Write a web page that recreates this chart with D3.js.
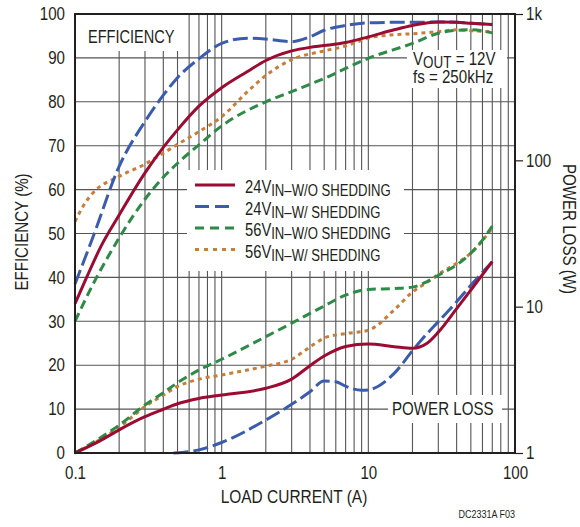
<!DOCTYPE html>
<html>
<head>
<meta charset="utf-8">
<script src="https://cdn.jsdelivr.net/npm/d3@7"></script>
<style>
  body { margin: 0; background: #fff; }
  svg text { font-family: "Liberation Sans", Arial, sans-serif; fill: #231f20; }
</style>
</head>
<body>
<svg id="chart"></svg>
<script>
const width = 580;
const height = 527;
const margin = {top: 14, right: 65, bottom: 74, left: 75};

// load current (A) vs efficiency (%)
const eff24NoShed = [[0.1,34],[0.12,40],[0.15,47],[0.2,54.2],[0.3,63.8],[0.4,69.6],[0.5,73.6],[0.7,79],[1,83.2],[1.5,86.9],[2,89.4],[3,91.6],[4,92.4],[5,92.8],[7,93.5],[10,94.8],[15,96.4],[20,97.4],[30,98.2],[40,98.1],[50,97.9],[70,97.6]];
const eff24Shed = [[0.1,38.5],[0.133,49.3],[0.2,65.3],[0.3,75.5],[0.4,81.5],[0.5,85.5],[0.7,89.8],[1,93.3],[1.5,94.5],[2,94.3],[3,93.7],[4,94.8],[5,96.3],[7,97.4],[10,98],[15,98.1],[20,98.1],[30,98.2],[40,98.1],[50,97.9],[70,97.6]];
const eff56NoShed = [[0.1,30],[0.133,38.5],[0.2,49],[0.3,57.8],[0.4,62.8],[0.5,66],[0.7,70.2],[1,74.5],[2,80],[3,82.3],[4,84],[5,85.3],[7,87.6],[10,89.9],[20,93.3],[30,95.6],[40,96.3],[50,96.4],[70,95.7]];
const eff56Shed = [[0.1,52.7],[0.114,56.3],[0.133,59.3],[0.2,63],[0.3,65.8],[0.4,68.3],[0.5,70.3],[0.7,73.2],[1,76.6],[1.5,82.3],[2,86],[3,89.6],[5,91.6],[7,92.7],[10,94.5],[15,95.3],[20,95.5],[30,96],[40,96.4],[50,96.2],[70,95.9]];

// load current (A) vs power loss (W)
const loss24NoShed = [[0.1,1],[0.15,1.22],[0.2,1.44],[0.3,1.77],[0.4,1.99],[0.5,2.17],[0.7,2.36],[1,2.49],[2,2.77],[3,3.2],[4,3.95],[5,4.6],[7,5.35],[10,5.55],[15,5.33],[20,5.2],[25,5.6],[30,6.7],[40,9.7],[50,13],[70,20.3]];
const loss24Shed = [[0.47,1],[0.7,1.05],[1,1.18],[2,1.68],[3,2.15],[4,2.62],[5,3.1],[6,3.07],[7,2.86],[9,2.68],[10,2.7],[15,3.5],[20,5.0],[25,6.5],[30,7.9],[40,10.8],[50,14],[70,20.3]];
const loss56NoShed = [[0.1,1],[0.2,1.55],[0.3,2.13],[0.4,2.58],[0.5,3.02],[0.7,3.69],[1,4.37],[2,6.24],[3,7.7],[4,9],[5,10.1],[7,12],[10,13.1],[15,13.3],[20,13.6],[25,14.8],[30,16.4],[40,19.3],[50,23.2],[60,28.5],[70,35.6]];
const loss56Shed = [[0.1,1],[0.2,1.5],[0.3,2.07],[0.4,2.49],[0.5,2.85],[0.7,3.19],[1,3.41],[2,3.93],[3,4.37],[4,5.3],[5,6.1],[7,6.55],[10,6.9],[15,9.5],[20,12.6],[25,14.6],[30,16.6],[40,19.8],[50,23.2],[70,34.5]];

const xTicks = [0.1, 1, 10, 100];
const effTicks = [0, 10, 20, 30, 40, 50, 60, 70, 80, 90, 100];
const lossTicks = [1, 10, 100, 1000];
const legendNames = ["24V", "24V", "56V", "56V"];
const legendSubs = ["IN\u2013W/O SHEDDING", "IN\u2013W/ SHEDDING", "IN\u2013W/O SHEDDING", "IN\u2013W/ SHEDDING"];

const colors = ["#9b0b32", "#3b5cad", "#2e8a47", "#c77e3a"];
const dashes = [null, "15,5", "9,5", "4,4"];

const svg = d3.select("#chart")
  .attr("width", width)
  .attr("height", height);

const innerWidth = width - margin.left - margin.right;
const innerHeight = height - margin.top - margin.bottom;

const g = svg.append("g")
  .attr("transform", `translate(${margin.left},${margin.top})`);

// condensed look: squeeze text horizontally around its anchor
function squeeze(sel, origin, k = 0.84) {
  sel.style("transform-box", "fill-box")
    .style("transform-origin", origin + " center")
    .style("transform", `scaleX(${k})`);
}

// Scales
const x = d3.scaleLog().domain([0.1, 100]).range([0, innerWidth]);
const yEff = d3.scaleLinear().domain([0, 100]).range([innerHeight, 0]);
const yLoss = d3.scaleLog().domain([1, 1000]).range([innerHeight, 0]);

// Grid
const minorX = [];
[0.1, 1, 10].forEach(d => { for (let k = 2; k <= 9; k++) minorX.push(d * k); });
minorX.push(1, 10);

g.selectAll(".vgrid")
  .data(minorX)
  .enter()
  .append("line")
    .attr("x1", d => x(d)).attr("x2", d => x(d))
    .attr("y1", 0).attr("y2", innerHeight)
    .attr("stroke", "#555")
    .attr("stroke-width", 1.1);

g.selectAll(".hgrid")
  .data(effTicks.slice(1, -1))
  .enter()
  .append("line")
    .attr("x1", 0).attr("x2", innerWidth)
    .attr("y1", d => yEff(d)).attr("y2", d => yEff(d))
    .attr("stroke", "#555")
    .attr("stroke-width", 1.1);

// White label boxes over the grid
const boxes = [
  [1, 1, 105, 36],      // EFFICIENCY
  [332, 36, 100, 38],   // VOUT
  [112, 156, 217, 101], // legend
  [313, 381, 114, 28]   // POWER LOSS
];
g.selectAll(".box")
  .data(boxes)
  .enter()
  .append("rect")
    .attr("x", d => d[0]).attr("y", d => d[1])
    .attr("width", d => d[2]).attr("height", d => d[3])
    .attr("fill", "#fff");

// Axes
const fontSize = "18px";

const xAxis = g.append("g")
  .attr("transform", `translate(0, ${innerHeight})`)
  .call(d3.axisBottom(x).tickValues(xTicks).tickFormat(d => d).tickSize(0).tickPadding(13));

const leftAxis = g.append("g")
  .call(d3.axisLeft(yEff).tickValues(effTicks).tickSize(0).tickPadding(10));

const rightAxis = g.append("g")
  .attr("transform", `translate(${innerWidth}, 0)`)
  .call(d3.axisRight(yLoss).tickValues(lossTicks)
    .tickFormat(d => d === 1000 ? "1k" : d).tickSize(8).tickPadding(3));

[xAxis, leftAxis, rightAxis].forEach(a => {
  a.select(".domain").remove();
  a.selectAll("text").attr("font-size", fontSize).attr("fill", "#231f20")
    .style("font-family", '"Liberation Sans", Arial, sans-serif');
  a.selectAll("line").attr("stroke", "#231f20").attr("stroke-width", 1.2);
});
squeeze(xAxis.selectAll("text"), "center");
squeeze(leftAxis.selectAll("text"), "right");
squeeze(rightAxis.selectAll("text"), "left");

// Curves
const line = d3.line()
  .x(d => x(d[0]))
  .curve(d3.curveMonotoneX);

const effSeries = [eff24NoShed, eff24Shed, eff56NoShed, eff56Shed];
const lossSeries = [loss24NoShed, loss24Shed, loss56NoShed, loss56Shed];
const order = [3, 2, 1, 0];

order.forEach(i => {
  g.append("path")
    .datum(lossSeries[i])
    .attr("d", line.y(d => yLoss(d[1])))
    .attr("fill", "none")
    .attr("stroke", colors[i])
    .attr("stroke-width", 3)
    .attr("stroke-dasharray", dashes[i]);
});

order.forEach(i => {
  g.append("path")
    .datum(effSeries[i])
    .attr("d", line.y(d => yEff(d[1])))
    .attr("fill", "none")
    .attr("stroke", colors[i])
    .attr("stroke-width", 3)
    .attr("stroke-dasharray", dashes[i]);
});

// Frame
g.append("rect")
  .attr("width", innerWidth)
  .attr("height", innerHeight)
  .attr("fill", "none")
  .attr("stroke", "#231f20")
  .attr("stroke-width", 2);

// Plot labels
squeeze(g.append("text").attr("x", 13).attr("y", 29).attr("font-size", fontSize).text("EFFICIENCY"), "left", 0.81);
squeeze(g.append("text").attr("x", 317).attr("y", 401).attr("font-size", fontSize).text("POWER LOSS"), "left");

const vout = g.append("text").attr("x", 338).attr("y", 51).attr("font-size", fontSize);
vout.append("tspan").text("V");
vout.append("tspan").attr("font-size", "16px").attr("dy", 3).text("OUT");
vout.append("tspan").attr("dy", -3).text(" = 12V");
squeeze(vout, "left");
squeeze(g.append("text").attr("x", 338).attr("y", 69).attr("font-size", fontSize).text("fs = 250kHz"), "left");

// Legend
const legend = g.append("g").attr("transform", "translate(120, 171)");
legendNames.forEach((name, i) => {
  const row = legend.append("g").attr("transform", `translate(0, ${i * 21.5})`);
  row.append("line")
    .attr("x1", 0).attr("x2", 40)
    .attr("stroke", colors[i])
    .attr("stroke-width", 3)
    .attr("stroke-dasharray", i === 1 ? "14,6" : i === 2 ? "9,6" : i === 3 ? "4,5" : null);
  const t = row.append("text").attr("x", 50).attr("y", 8).attr("font-size", fontSize);
  t.append("tspan").text(name);
  t.append("tspan").attr("font-size", "16px").attr("dy", 3).text(legendSubs[i]);
  squeeze(t, "left", 0.82);
});

// Axis titles
squeeze(svg.append("text")
  .attr("x", margin.left + innerWidth / 2 - 1)
  .attr("y", 503)
  .attr("text-anchor", "middle")
  .attr("font-size", fontSize)
  .text("LOAD CURRENT (A)"), "center", 0.86);

squeeze(svg.append("g")
  .attr("transform", "translate(28, 232) rotate(-90)")
  .append("text")
  .attr("text-anchor", "middle")
  .attr("font-size", fontSize)
  .text("EFFICIENCY (%)"), "center");

squeeze(svg.append("g")
  .attr("transform", "translate(563, 229) rotate(90)")
  .append("text")
  .attr("text-anchor", "middle")
  .attr("font-size", fontSize)
  .text("POWER LOSS (W)"), "center");

squeeze(svg.append("text")
  .attr("x", 515)
  .attr("y", 518)
  .attr("text-anchor", "end")
  .attr("font-size", "11px")
  .text("DC2331A F03"), "right", 0.82);
</script>
</body>
</html>
